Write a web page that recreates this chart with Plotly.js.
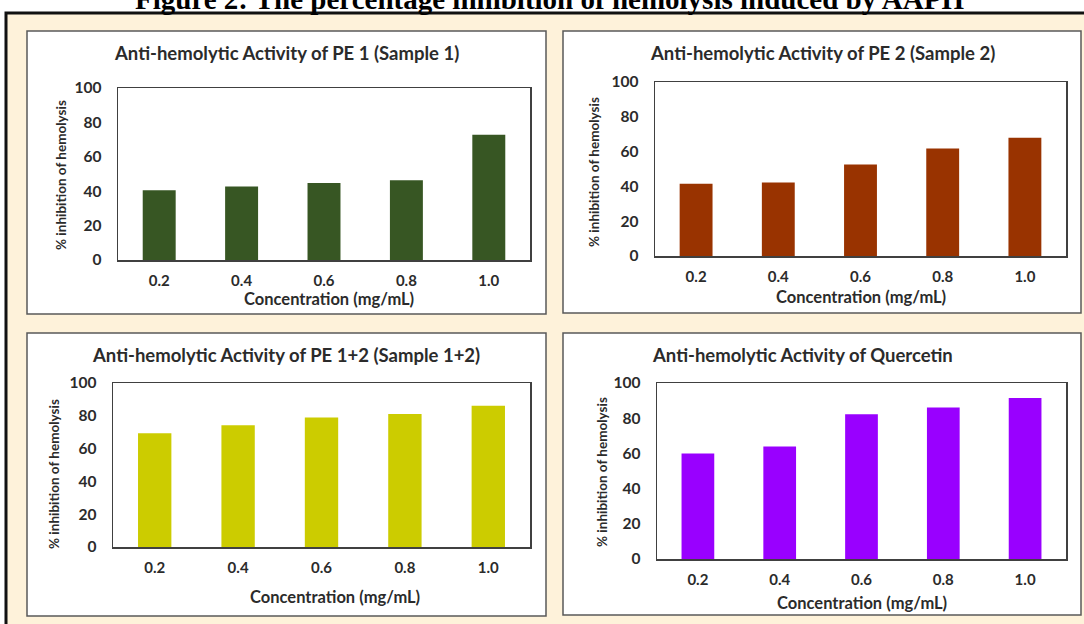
<!DOCTYPE html>
<html><head><meta charset="utf-8">
<script src="https://cdn.plot.ly/plotly-3.0.1.min.js"></script>
<style>html,body{margin:0;padding:0;background:#fff;overflow:hidden}</style>
</head><body><div id="chart" style="width:1084px;height:624px"></div>
<script>
// ---- data ----
const concentrations = ['0.2', '0.4', '0.6', '0.8', '1.0'];
const pe1 = [40.6, 42.7, 44.7, 46.4, 72.8];
const pe2 = [41.5, 42.3, 52.6, 61.8, 67.9];
const pe12 = [69.3, 74.2, 78.9, 81.1, 86.2];
const quercetin = [60.0, 63.9, 82.2, 86.1, 91.5];
const panelTitles = [
  'Anti-hemolytic Activity of PE 1 (Sample 1)',
  'Anti-hemolytic Activity of PE 2 (Sample 2)',
  'Anti-hemolytic Activity of PE 1+2 (Sample 1+2)',
  'Anti-hemolytic Activity of Quercetin'
];
const yTitle = '% inhibition of hemolysis';
const xTitle = 'Concentration (mg/mL)';
const figureTitle = 'Figure 2: The percentage inhibition of hemolysis induced by AAPH';

// ---- layout helpers ----
const W = 1084, H = 624;
const px = x => x / W, py = y => 1 - y / H;
const FONT = 'Lato, "Open Sans", sans-serif';
const TXT = '#2b2b2b';

const series = [pe1, pe2, pe12, quercetin];
const colors = ['#375623', '#993300', '#cccc00', '#9900ff'];
const panels = [
  {box: [27, 31, 546, 314], plot: [118, 88, 530, 260], title: [286, 53], ytitle: [61, 175], xtitle: [329, 299]},
  {box: [563, 31, 1081, 313], plot: [655, 82, 1066, 256], title: [822, 53], ytitle: [594, 172], xtitle: [861, 297]},
  {box: [27, 333, 546, 616], plot: [113, 383, 530, 547], title: [286, 355], ytitle: [54, 474], xtitle: [335, 597]},
  {box: [563, 333, 1081, 615], plot: [657, 383, 1066, 559], title: [802, 355], ytitle: [602, 472], xtitle: [862, 603]}
];

const data = [];
const layout = {
  width: W, height: H,
  margin: {l: 0, r: 0, t: 0, b: 0},
  paper_bgcolor: '#ffffff',
  plot_bgcolor: '#ffffff',
  showlegend: false,
  bargap: 0.6,
  shapes: [],
  annotations: []
};

// outer cream frame
layout.shapes.push({type: 'rect', xref: 'paper', yref: 'paper', layer: 'below',
  x0: px(6), x1: px(1090), y0: py(630), y1: py(13),
  fillcolor: '#fef2da', line: {color: '#111111', width: 3}});

layout.annotations.push({xref: 'paper', yref: 'paper', x: px(549), y: py(17),
  xanchor: 'center', yanchor: 'bottom', showarrow: false, text: '<b>' + figureTitle + '</b>',
  font: {family: '"Liberation Serif", "DejaVu Serif", serif', size: 29, color: '#000000'}});

panels.forEach((p, i) => {
  const n = i === 0 ? '' : String(i + 1);
  const [bx0, by0, bx1, by1] = p.box;
  const [ax0, ay0, ax1, ay1] = p.plot;
  layout.shapes.push({type: 'rect', xref: 'paper', yref: 'paper', layer: 'below',
    x0: px(bx0), x1: px(bx1), y0: py(by1), y1: py(by0),
    fillcolor: '#ffffff', line: {color: '#595959', width: 1.5}});
  data.push({type: 'bar', x: concentrations, y: series[i], xaxis: 'x' + n, yaxis: 'y' + n,
    marker: {color: colors[i], line: {width: 0}}, hoverinfo: 'x+y'});
  layout['xaxis' + n] = {domain: [px(ax0), px(ax1)], anchor: 'y' + n, type: 'category',
    showline: true, mirror: true, linecolor: '#404040', linewidth: 1.5,
    showgrid: false, zeroline: false, ticks: '', ticklabelstandoff: 6,
    tickfont: {family: FONT, size: 15, color: TXT, weight: 'bold'}};
  layout['yaxis' + n] = {domain: [py(ay1), py(ay0)], anchor: 'x' + n, range: [0, 100],
    dtick: 20, tick0: 0, showline: true, mirror: true, linecolor: '#404040', linewidth: 1.5,
    showgrid: false, zeroline: false, ticks: '', ticklabelstandoff: 12,
    tickfont: {family: FONT, size: 15.5, color: TXT, weight: 'bold'}};
  layout.annotations.push({xref: 'paper', yref: 'paper', x: px(p.title[0]), y: py(p.title[1]),
    xanchor: 'center', yanchor: 'middle', showarrow: false, text: '<b>' + panelTitles[i] + '</b>',
    font: {family: FONT, size: 18.5, color: TXT}});
  layout.annotations.push({xref: 'paper', yref: 'paper', x: px(p.ytitle[0]), y: py(p.ytitle[1]),
    xanchor: 'center', yanchor: 'middle', showarrow: false, textangle: -90, text: '<b>' + yTitle + '</b>',
    font: {family: FONT, size: 13.5, color: TXT}});
  layout.annotations.push({xref: 'paper', yref: 'paper', x: px(p.xtitle[0]), y: py(p.xtitle[1]),
    xanchor: 'center', yanchor: 'middle', showarrow: false, text: '<b>' + xTitle + '</b>',
    font: {family: FONT, size: 16.5, color: TXT}});
});

Plotly.newPlot('chart', data, layout, {displayModeBar: false, staticPlot: true});
</script>
</body></html>
